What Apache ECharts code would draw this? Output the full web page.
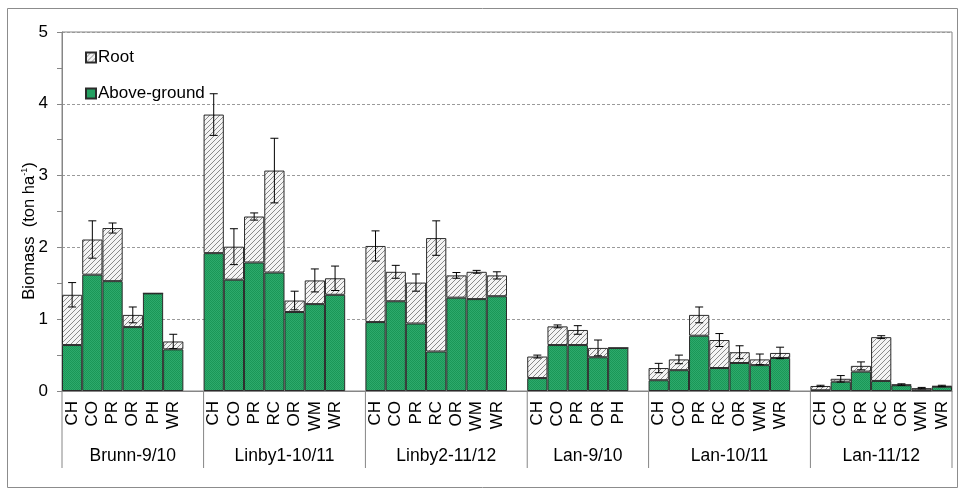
<!DOCTYPE html>
<html>
<head>
<meta charset="utf-8">
<script src="https://cdn.jsdelivr.net/npm/echarts@6/dist/echarts.min.js"></script>
<style>html,body{margin:0;padding:0;background:#fff;}#c{width:965px;height:491px;}</style>
</head>
<body>
<div id="c"></div>
<script>
const groups = ['Brunn-9/10', 'Linby1-10/11', 'Linby2-11/12', 'Lan-9/10', 'Lan-10/11', 'Lan-11/12'];
const crops = [
  ['CH', 'CO', 'PR', 'OR', 'PH', 'WR'],
  ['CH', 'CO', 'PR', 'RC', 'OR', 'WM', 'WR'],
  ['CH', 'CO', 'PR', 'RC', 'OR', 'WM', 'WR'],
  ['CH', 'CO', 'PR', 'OR', 'PH'],
  ['CH', 'CO', 'PR', 'RC', 'OR', 'WM', 'WR'],
  ['CH', 'CO', 'PR', 'RC', 'OR', 'WM', 'WR']
];
const aboveGround = [
  [0.64, 1.62, 1.53, 0.89, 1.36, 0.58],
  [1.92, 1.55, 1.79, 1.65, 1.10, 1.21, 1.34],
  [0.96, 1.25, 0.94, 0.55, 1.30, 1.28, 1.32],
  [0.18, 0.64, 0.64, 0.47, 0.60],
  [0.15, 0.29, 0.77, 0.32, 0.39, 0.36, 0.46],
  [0.01, 0.13, 0.27, 0.14, 0.08, 0.01, 0.06]
];
const rootBiomass = [
  [0.70, 0.49, 0.74, 0.17, 0.00, 0.11],
  [1.93, 0.46, 0.64, 1.42, 0.16, 0.33, 0.23],
  [1.06, 0.41, 0.57, 1.58, 0.31, 0.38, 0.29],
  [0.30, 0.26, 0.21, 0.13, 0.00],
  [0.17, 0.15, 0.29, 0.39, 0.15, 0.08, 0.07],
  [0.06, 0.04, 0.08, 0.61, 0.01, 0.03, 0.01]
];
const errors = [
  [0.17, 0.26, 0.07, 0.11, 0, 0.10],
  [0.29, 0.25, 0.05, 0.45, 0.13, 0.16, 0.17],
  [0.21, 0.09, 0.12, 0.24, 0.04, 0.02, 0.05],
  [0.02, 0.02, 0.06, 0.11, 0],
  [0.065, 0.06, 0.11, 0.09, 0.09, 0.075, 0.08],
  [0.01, 0.045, 0.055, 0.02, 0.01, 0.01, 0.01]
];
const yTicks = [0, 1, 2, 3, 4, 5];

// build flat category axis with an empty slot after each group except the last
const cats = [], labels = [], agData = [], rootData = [], errData = [], groupSlots = [];
groups.forEach((g, gi) => {
  const start = cats.length;
  crops[gi].forEach((c, i) => {
    const idx = cats.length;
    cats.push(gi + '-' + i);
    labels.push(c);
    agData.push(aboveGround[gi][i]);
    rootData.push(rootBiomass[gi][i]);
    const tot = aboveGround[gi][i] + rootBiomass[gi][i];
    if (errors[gi][i] > 0) errData.push([idx, tot - errors[gi][i], tot + errors[gi][i]]);
  });
  if (gi < groups.length - 1) {
    cats.push(gi + '-gap'); labels.push(''); agData.push(null); rootData.push(null);
  }
  groupSlots.push([start, cats.length]);
});

function makeHatch() {
  const c = document.createElement('canvas'); c.width = 5; c.height = 5;
  const x = c.getContext('2d');
  x.fillStyle = '#f4f4f4'; x.fillRect(0, 0, 5, 5);
  x.strokeStyle = '#8a8a8a'; x.lineWidth = 1;
  for (let k = -5; k <= 10; k += 5) {
    x.beginPath(); x.moveTo(k, 5); x.lineTo(k + 5, 0); x.stroke();
  }
  return c;
}
function makeGreen() {
  const c = document.createElement('canvas'); c.width = 2; c.height = 2;
  const x = c.getContext('2d');
  x.fillStyle = '#2daa6c'; x.fillRect(0, 0, 2, 2);
  x.fillStyle = '#1b9757'; x.fillRect(0, 0, 1, 1); x.fillRect(1, 1, 1, 1);
  return c;
}
const hatch = { image: makeHatch(), repeat: 'repeat' };
const green = { image: makeGreen(), repeat: 'repeat' };

const FONT = 'Liberation Sans, Arial, sans-serif';
const chart = echarts.init(document.getElementById('c'), null, { renderer: 'canvas' });
const option = {
  animation: false,
  backgroundColor: '#fff',
  textStyle: { fontFamily: FONT },
  grid: { left: 62, right: 13, top: 32, bottom: 100, show: true, borderColor: '#868686', borderWidth: 1, backgroundColor: 'transparent' },
  legend: {
    orient: 'vertical', left: 85, top: 49, itemGap: 19, itemWidth: 10, itemHeight: 10, padding: 0,
    icon: 'rect',
    data: ['Root', 'Above-ground'],
    textStyle: { fontSize: 17, color: '#000', fontFamily: FONT, padding: [0, 0, 0, -3] }
  },
  xAxis: {
    type: 'category', data: cats,
    axisLine: { lineStyle: { color: '#868686' } },
    axisTick: { show: false },
    axisLabel: {
      interval: 0, rotate: 90, fontSize: 17, color: '#000', margin: 10, fontFamily: FONT,
      formatter: (v, i) => labels[i]
    },
    splitLine: { show: false }
  },
  yAxis: {
    type: 'value', min: yTicks[0], max: yTicks[yTicks.length - 1], interval: 1,
    axisLine: { show: true, lineStyle: { color: '#868686' } },
    axisTick: { show: true, length: 5, lineStyle: { color: '#868686' } },
    minorTick: { show: true, splitNumber: 2, length: 5, lineStyle: { color: '#868686' } },
    axisLabel: { fontSize: 17, color: '#000', margin: 14, fontFamily: FONT },
    splitLine: { lineStyle: { color: '#9a9a9a', type: [3, 2] } }
  },
  series: [
    {
      name: 'Above-ground', type: 'bar', stack: 'b', data: agData, barCategoryGap: '0%',
      itemStyle: { color: green, borderColor: '#2b2b2b', borderWidth: 1 }
    },
    {
      name: 'Root', type: 'bar', stack: 'b', data: rootData, barCategoryGap: '0%',
      itemStyle: { color: hatch, borderColor: '#2b2b2b', borderWidth: 1 }
    },
    {
      name: 'err', type: 'custom', data: errData, z: 10,
      renderItem: function (params, api) {
        const x = api.value(0);
        const lo = api.coord([x, api.value(1)]);
        const hi = api.coord([x, api.value(2)]);
        const hw = 4;
        const st = { stroke: '#000', lineWidth: 1 };
        return {
          type: 'group', children: [
            { type: 'line', shape: { x1: lo[0], y1: lo[1], x2: hi[0], y2: hi[1] }, style: st },
            { type: 'line', shape: { x1: lo[0] - hw, y1: lo[1], x2: lo[0] + hw, y2: lo[1] }, style: st },
            { type: 'line', shape: { x1: hi[0] - hw, y1: hi[1], x2: hi[0] + hw, y2: hi[1] }, style: st }
          ]
        };
      }
    }
  ]
};
chart.setOption(option);

// group separators and labels derived from the category axis scale
const p0 = chart.convertToPixel({ xAxisIndex: 0 }, 0);
const p1 = chart.convertToPixel({ xAxisIndex: 0 }, 1);
const w = p1 - p0;
const yBase = chart.convertToPixel({ yAxisIndex: 0 }, 0);
const gfx = [];
groupSlots.forEach((s, gi) => {
  const x0 = chart.convertToPixel({ xAxisIndex: 0 }, s[0]) - w / 2;
  const x1 = chart.convertToPixel({ xAxisIndex: 0 }, s[1] - 1) + w / 2;
  gfx.push({ type: 'line', shape: { x1: x0, y1: yBase, x2: x0, y2: yBase + 77 }, style: { stroke: '#868686', lineWidth: 1 } });
  if (gi === groupSlots.length - 1)
    gfx.push({ type: 'line', shape: { x1: x1, y1: yBase, x2: x1, y2: yBase + 77 }, style: { stroke: '#868686', lineWidth: 1 } });
  gfx.push({ type: 'text', x: (x0 + x1) / 2, y: yBase + 65, style: { text: groups[gi], fontSize: 17.5, fontFamily: FONT, fill: '#000', align: 'center', verticalAlign: 'middle' } });
});
gfx.push({ type: 'rect', shape: { x: 7.5, y: 8.5, width: 950, height: 479 }, style: { fill: 'none', stroke: '#8c8c8c', lineWidth: 1 }, silent: true });
gfx.push({
  type: 'text', x: 29, y: 231, rotation: Math.PI / 2,
  style: {
    text: '{a|Biomass  (ton ha}{s|-1}{a|)}', align: 'center', verticalAlign: 'middle',
    rich: { a: { fontSize: 16.5, fontFamily: FONT, fill: '#000' }, s: { fontSize: 9, fontFamily: FONT, fill: '#000', verticalAlign: 'top', padding: [0, 0, 8, 0] } }
  }
});
chart.setOption({ graphic: gfx });
</script>
</body>
</html>
